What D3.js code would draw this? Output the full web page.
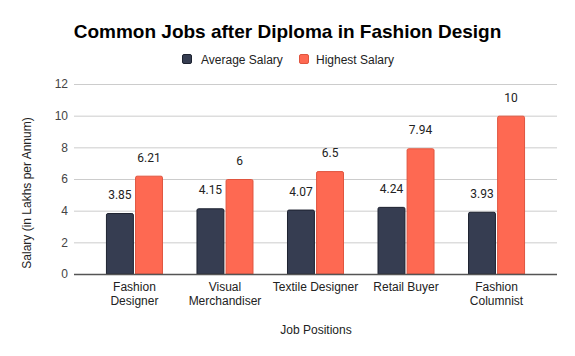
<!DOCTYPE html>
<html><head><meta charset="utf-8">
<script src="https://cdn.jsdelivr.net/npm/d3@7"></script>
<style>body{margin:0;background:#fff}svg{display:block}</style>
</head><body><svg id="c" width="575" height="356"></svg>
<script>
const categories = [["Fashion","Designer"],["Visual","Merchandiser"],["Textile Designer"],["Retail Buyer"],["Fashion","Columnist"]];
const seriesNames = ["Average Salary","Highest Salary"];
const averageSalary = [3.85, 4.15, 4.07, 4.24, 3.93];
const highestSalary = [6.21, 6, 6.5, 7.94, 10];
const labelsAvg = ["3.85","4.15","4.07","4.24","3.93"];
const labelsHigh = ["6.21","6","6.5","7.94","10"];
const yTicks = [0,2,4,6,8,10,12];

(function(){
const colors = ["#363d51","#fe6952"];
const strokes = ["#1d2230","#e0553f"];
const svg = d3.select("#c");
const pL = 74, pR = 557, pT = 84, pB = 274;
const keys = categories.map((c,i)=>i);
const x = d3.scaleBand().domain(keys).range([pL,pR]).paddingInner(0.37).paddingOuter(0.353);
const xs = d3.scaleBand().domain([0,1]).range([0,x.bandwidth()]).paddingInner(0.04);
const y = d3.scaleLinear().domain([0,12]).range([pB,pT]);
const font = "'Liberation Sans', Arial, sans-serif";

svg.append("text").attr("x",287.5).attr("y",38).attr("text-anchor","middle")
  .attr("font-family",font).attr("font-weight","bold").attr("font-size",19).attr("fill","#000")
  .text("Common Jobs after Diploma in Fashion Design");

const leg = svg.append("g");
const legItems = [{x:182,tx:201},{x:299,tx:316}];
seriesNames.forEach((n,i)=>{
  leg.append("rect").attr("x",legItems[i].x+0.5).attr("y",54.5).attr("width",9).attr("height",9).attr("rx",1.5)
    .attr("fill",colors[i]).attr("stroke",strokes[i]).attr("stroke-width",1);
  leg.append("text").attr("x",legItems[i].tx).attr("y",63.5).attr("font-family",font).attr("font-size",12)
    .attr("fill","#222").text(n);
});

const yAxis = d3.axisLeft(y).tickValues(yTicks).tickSize(-(pR-pL)).tickPadding(6).tickFormat(d3.format("d"));
const ga = svg.append("g").attr("transform",`translate(${pL},0)`).call(yAxis);
ga.select(".domain").remove();
ga.selectAll(".tick line").attr("stroke","#cccccc").attr("stroke-width",1);
ga.selectAll(".tick text").attr("font-family",font).attr("font-size",12).attr("fill","#444").attr("x",-6);

const data = keys.map(i=>[averageSalary[i], highestSalary[i]]);
const labs = keys.map(i=>[labelsAvg[i], labelsHigh[i]]);
function barPath(x0,w,yt,yb,r){
  return `M${x0},${yb}V${yt+r}Q${x0},${yt} ${x0+r},${yt}H${x0+w-r}Q${x0+w},${yt} ${x0+w},${yt+r}V${yb}Z`;
}
keys.forEach(i=>{
  [0,1].forEach(s=>{
    const x0 = x(i)+xs(s), w = xs.bandwidth();
    svg.append("path").attr("d",barPath(x0+0.5,w-1,y(data[i][s])+0.5,pB,1.5))
      .attr("fill",colors[s]).attr("stroke",strokes[s]).attr("stroke-width",1);
    svg.append("text").attr("x",x0+w/2).attr("y",y(data[i][s])-14).attr("text-anchor","middle")
      .attr("font-family","Roboto, sans-serif").attr("font-size",12).attr("fill","#222").text(labs[i][s]);
  });
});

svg.append("line").attr("x1",pL).attr("x2",pR).attr("y1",pB+0.5).attr("y2",pB+0.5)
  .attr("stroke","#555").attr("stroke-width",1.5);

const xg = svg.append("g");
keys.forEach(i=>{
  const t = xg.append("text").attr("text-anchor","middle").attr("font-family",font).attr("font-size",12).attr("fill","#222");
  categories[i].forEach((ln,j)=>{
    t.append("tspan").attr("x",x(i)+x.bandwidth()/2).attr("y",291+j*13.5).text(ln);
  });
});

svg.append("text").attr("x",316).attr("y",334).attr("text-anchor","middle").attr("font-family",font)
  .attr("font-size",12).attr("fill","#222").text("Job Positions");
svg.append("text").attr("transform","translate(31,193) rotate(-90)").attr("text-anchor","middle")
  .attr("font-family",font).attr("font-size",12).attr("fill","#222").text("Salary (in Lakhs per Annum)");
})();
</script></body></html>
